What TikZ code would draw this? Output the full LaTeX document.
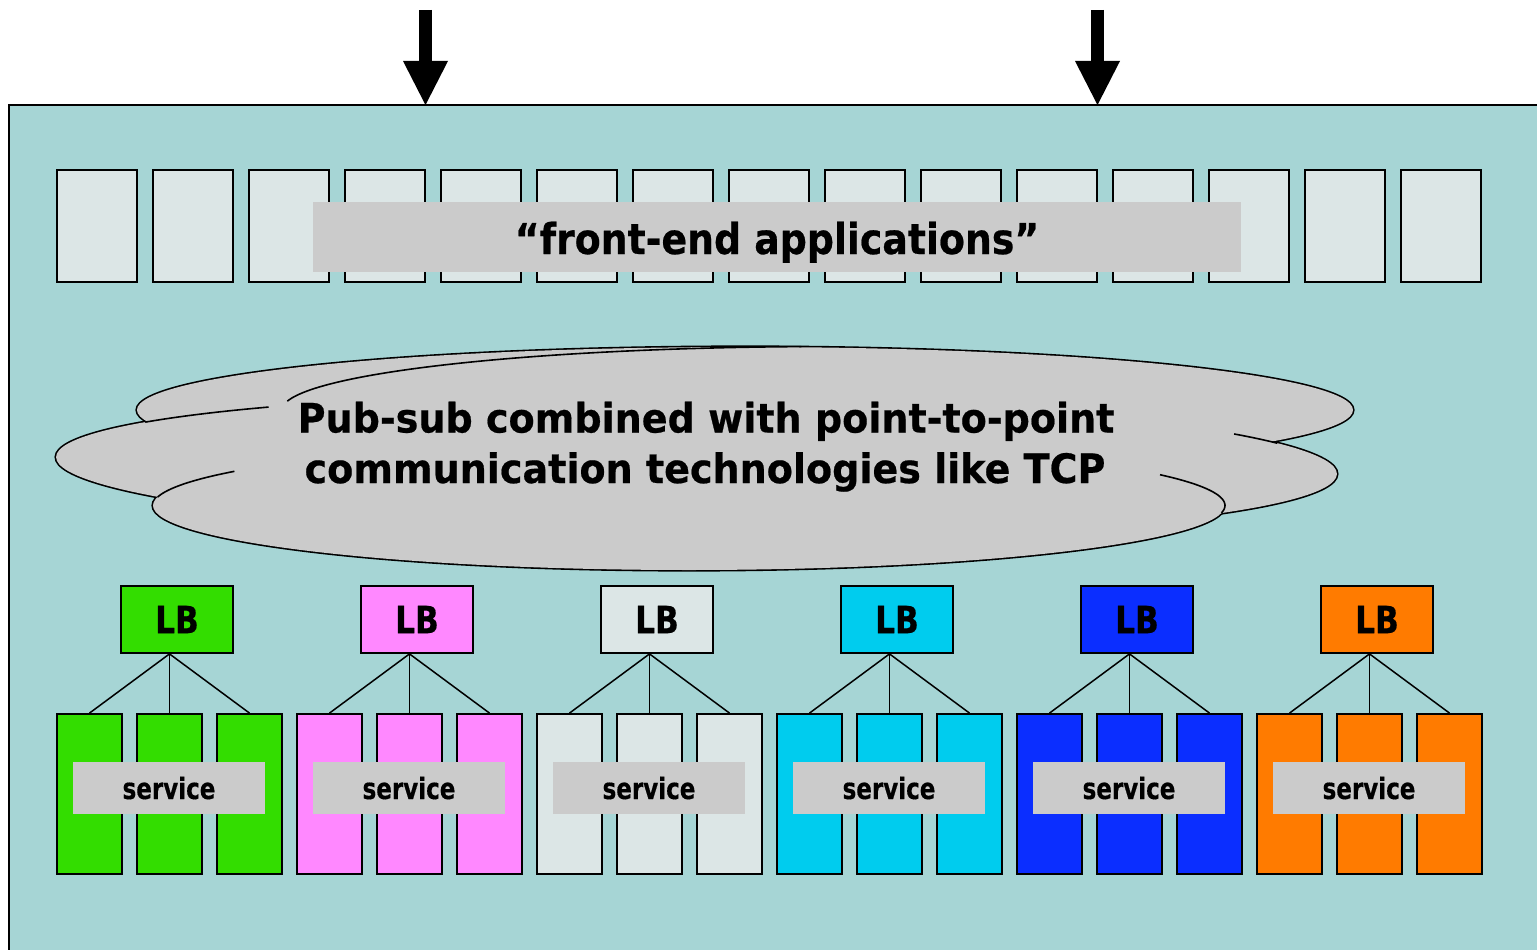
\documentclass[tikz,border=0pt]{standalone}
\usepackage{fontspec}
\setmainfont{DejaVu Sans}
\newfontfamily\cloudfont{DejaVu Sans}[FakeStretch=0.94, FakeBold=0.5]
\newfontfamily\headfont{DejaVu Sans}[FakeStretch=0.89, FakeBold=0.5]
\newfontfamily\lbfont{DejaVu Sans}[FakeStretch=0.83, FakeBold=0.5]
\newfontfamily\svcfont{DejaVu Sans}[FakeStretch=0.78, FakeBold=0.4]
\usetikzlibrary{arrows.meta}

\definecolor{panel}{HTML}{A6D5D5}
\definecolor{pale}{HTML}{DCE6E6}
\definecolor{labelgray}{HTML}{CBCBCB}
\definecolor{cgreen}{HTML}{33DD00}
\definecolor{cpink}{HTML}{FF88FF}
\definecolor{ccyan}{HTML}{00CCEE}
\definecolor{cblue}{HTML}{0B2EFF}
\definecolor{corange}{HTML}{FF7B00}

\begin{document}
\begin{tikzpicture}[x=1pt,y=-1pt,
  febox/.style={draw=black, line width=1.8pt, fill=pale, inner sep=0pt,
    minimum width=80pt, minimum height=112pt},
  graylabel/.style={fill=labelgray, inner sep=0pt},
  lbbox/.style={draw=black, line width=1.8pt, inner sep=0pt,
    minimum width=112pt, minimum height=67pt, font=\lbfont\bfseries\fontsize{37.5}{40}\selectfont},
  svcbox/.style={draw=black, line width=1.8pt, inner sep=0pt,
    minimum width=65pt, minimum height=160pt},
  svclabel/.style={graylabel, minimum width=192pt, minimum height=52pt,
    font=\svcfont\bfseries\fontsize{29.5}{32}\selectfont},
  link/.style={draw=black, line width=1.5pt},
  bigarrow/.style={line width=13pt,
    -{Triangle[width=45pt,length=44pt,line width=0pt]}},
  cloudedge/.style={line width=3.2pt},
  cloudinner/.style={line width=1.6pt},
  cloudtext/.style={anchor=base, inner sep=0pt,
    font=\cloudfont\bfseries\fontsize{40.5}{48}\selectfont}
]
\useasboundingbox (0,0) rectangle (1537,950);
\clip (0,0) rectangle (1537,950);

% system panel
\fill[panel] (9,105) rectangle (1570,980);
\draw[line width=2pt] (9,980) -- (9,105) -- (1570,105);

% incoming requests
\coordinate (inA) at (425.5,10);
\coordinate (inAend) at (425.5,105);
\coordinate (inB) at (1097.5,10);
\coordinate (inBend) at (1097.5,105);
\draw[bigarrow] (inA) -- (inAend);
\draw[bigarrow] (inB) -- (inBend);

% front-end application row
\foreach \i in {0,...,14}
  \node[febox] (fe\i) at ({97+96*\i},226) {};
\node[graylabel, minimum width=928pt, minimum height=70pt,
  text height=40pt, text depth=6pt,
  font=\headfont\bfseries\fontsize{42.5}{46}\selectfont] (felabel) at (777,237)
  {“front-end applications”};

% messaging cloud: outline by stroking the lobes, then filling them
\begin{scope}
  \draw[cloudedge] (745,410) ellipse [x radius=608pt, y radius=63pt];
  \draw[cloudedge] (689,505.5) ellipse [x radius=536pt, y radius=64.5pt];
  \begin{scope}[shift={(696.5,465.5)}, rotate=-0.76]
    \draw[cloudedge] (0,0) ellipse [x radius=640.5pt, y radius=71pt];
  \end{scope}
  \fill[labelgray] (745,410) ellipse [x radius=608pt, y radius=63pt];
  \fill[labelgray] (689,505.5) ellipse [x radius=536pt, y radius=64.5pt];
  \begin{scope}[shift={(696.5,465.5)}, rotate=-0.76]
    \fill[labelgray] (0,0) ellipse [x radius=640.5pt, y radius=71pt];
    % inner folds of the middle lobe
    \draw[cloudinner] plot[domain=149.5:132, samples=30]
      ({640.5*cos(\x)}, {-71*sin(\x)});
    \draw[cloudinner] plot[domain=25:33, samples=20]
      ({640.5*cos(\x)}, {-71*sin(\x)});
  \end{scope}
  % inner folds of the lower lobe
  \draw[cloudinner] plot[domain=172.5:148, samples=30]
    ({689+536*cos(\x)}, {505.5-64.5*sin(\x)});
  \draw[cloudinner] plot[domain=28.5:-6.5, samples=30]
    ({689+536*cos(\x)}, {505.5-64.5*sin(\x)});
  % inner fold along the top
  \draw[cloudinner] plot[domain=172:93, samples=60]
    ({830+548*cos(\x)}, {410-63.5*sin(\x)});
\end{scope}
\node[cloudtext] (cloudA) at (706,432.5) {Pub-sub combined with point-to-point};
\node[cloudtext] (cloudB) at (705,483) {communication technologies like TCP};

% load-balanced service groups
\foreach \k/\c in {0/cgreen,1/cpink,2/pale,3/ccyan,4/cblue,5/corange}{
  \foreach \j in {0,1,2}
    \node[svcbox, fill=\c] (s\k-\j) at ({89.5+80*\j+240*\k},794) {};
  \node[svclabel] (svc\k) at ({169+240*\k},788) {service};
  \node[lbbox, fill=\c] (lb\k) at ({177+240*\k},619.5) {LB};
  \foreach \j in {0,1,2}
    \draw[link] (s\k-1.north |- lb\k.south) -- (s\k-\j.north);
}
\end{tikzpicture}
\end{document}
